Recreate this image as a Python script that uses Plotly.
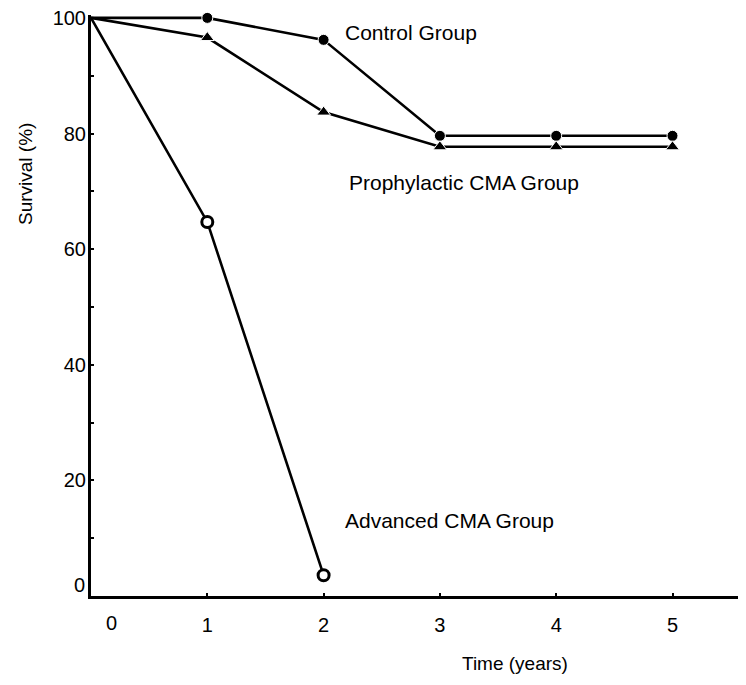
import plotly.graph_objects as go

years = [0, 1, 2, 3, 4, 5]
control = [100, 100, 96.2, 79.6, 79.6, 79.6]
prophylactic = [100, 96.6, 83.7, 77.7, 77.7, 77.7]
advanced_years = [0, 1, 2]
advanced = [100, 64.7, 3.6]
y_ticks = [20, 40, 60, 80, 100]
x_ticks = [1, 2, 3, 4, 5]

FONT = "Liberation Sans, Arial, sans-serif"
fig = go.Figure()


def sizes(n, s):
    # no marker at the origin point
    return [0] + [s] * (n - 1)


fig.add_trace(go.Scatter(
    x=years, y=control, mode="lines+markers", name="Control Group",
    line=dict(color="black", width=2.6),
    marker=dict(symbol="circle", size=sizes(len(years), 11), color="black", opacity=1),
    cliponaxis=False))
fig.add_trace(go.Scatter(
    x=years, y=prophylactic, mode="lines+markers", name="Prophylactic CMA Group",
    line=dict(color="black", width=2.6),
    marker=dict(symbol="triangle-up", size=sizes(len(years), 12), color="black", opacity=1),
    cliponaxis=False))
fig.add_trace(go.Scatter(
    x=advanced_years, y=advanced, mode="lines+markers", name="Advanced CMA Group",
    line=dict(color="black", width=2.6),
    marker=dict(symbol="circle", size=sizes(len(advanced_years), 11), color="white", opacity=1,
                line=dict(color="black", width=[0] + [3] * (len(advanced_years) - 1))),
    cliponaxis=False))

ann = [
    dict(x=2.167, y=97.4, text="Control Group", xanchor="left", yanchor="middle"),
    dict(x=2.20, y=71.6, text="Prophylactic CMA Group", xanchor="left", yanchor="middle"),
    dict(x=2.167, y=13.1, text="Advanced CMA Group", xanchor="left", yanchor="middle"),
]
for a in ann:
    fig.add_annotation(**a, xref="x", yref="y", showarrow=False,
                       font=dict(family=FONT, size=21, color="black"))

# axis titles
fig.add_annotation(x=3.646, y=0, xref="x", yref="paper", yshift=-67, text="Time (years)",
                   showarrow=False, xanchor="center", yanchor="middle",
                   font=dict(family=FONT, size=19, color="black"))
fig.add_annotation(x=0, y=73, xref="paper", yref="y", xshift=-65, text="Survival (%)",
                   textangle=-90, showarrow=False, xanchor="center", yanchor="middle",
                   font=dict(family=FONT, size=19, color="black"))
# zero tick labels (offset from the origin as in the original)
fig.add_annotation(x=0.18, y=0, xref="x", yref="paper", yshift=-27, text="0",
                   showarrow=False, xanchor="center", yanchor="middle",
                   font=dict(family=FONT, size=20, color="black"))
fig.add_annotation(x=0, y=1.9, xref="paper", yref="y", xshift=-4, text="0",
                   showarrow=False, xanchor="right", yanchor="middle",
                   font=dict(family=FONT, size=20, color="black"))

fig.update_xaxes(range=[0, 5.632], tickvals=x_ticks, ticktext=[str(v) for v in x_ticks],
                 ticks="inside", ticklen=3, tickwidth=2, tickcolor="black",
                 showline=True, linecolor="black", linewidth=3, showgrid=False, zeroline=False,
                 ticklabelstandoff=9, ticklabeloverflow="allow",
                 tickfont=dict(family=FONT, size=20, color="black"))
fig.update_yaxes(range=[0, 100.5], tickvals=y_ticks, ticktext=[str(v) for v in y_ticks],
                 ticks="inside", ticklen=3, tickwidth=2, tickcolor="black",
                 minor=dict(tickvals=[10, 30, 50, 70, 90], ticks="inside", ticklen=3,
                            tickwidth=2, tickcolor="black"),
                 showline=True, linecolor="black", linewidth=3, showgrid=False, zeroline=False,
                 ticklabelstandoff=-2, ticklabeloverflow="allow",
                 tickfont=dict(family=FONT, size=20, color="black"))

# page body has an 8px margin; size the figure so the plot lands where the original is
fig.update_layout(width=738, height=677, margin=dict(l=83, r=0, t=7, b=89),
                  plot_bgcolor="white", paper_bgcolor="white", showlegend=False,
                  font=dict(family=FONT, color="black"))

fig.write_html("out.html")
